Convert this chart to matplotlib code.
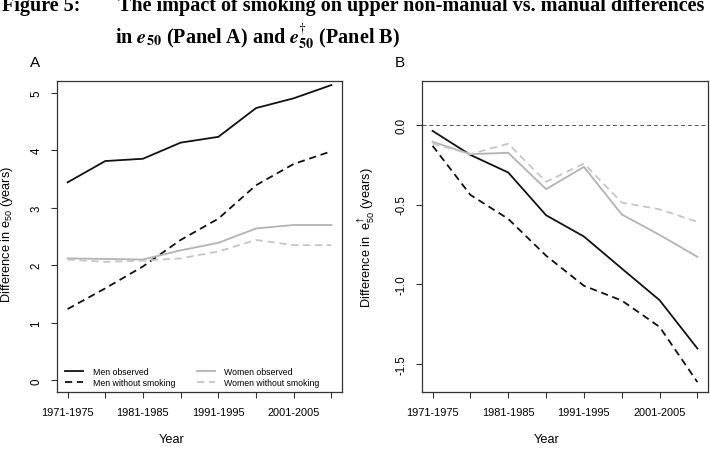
import matplotlib
matplotlib.use("Agg")
import matplotlib.pyplot as plt
import numpy as np

plt.rcParams['font.family'] = ['Liberation Sans', 'DejaVu Sans']
plt.rcParams['mathtext.fontset'] = 'custom'
plt.rcParams['mathtext.rm'] = 'Liberation Sans'
plt.rcParams['mathtext.it'] = 'Liberation Sans'
plt.rcParams['mathtext.bf'] = 'Liberation Sans:bold'

periods = ['1971-1975', '1976-1980', '1981-1985', '1986-1990',
           '1991-1995', '1996-2000', '2001-2005', '2006-2010']

# Panel A: difference in e50
men_obs_a = [3.44, 3.81, 3.85, 4.13, 4.23, 4.73, 4.90, 5.13]
men_nosmk_a = [1.24, 1.60, 1.98, 2.44, 2.81, 3.39, 3.76, 3.98]
women_obs_a = [2.12, 2.11, 2.10, 2.26, 2.39, 2.64, 2.70, 2.70]
women_nosmk_a = [2.10, 2.06, 2.08, 2.12, 2.24, 2.44, 2.35, 2.35]

# Panel B: difference in e-dagger50
men_obs_b = [-0.04, -0.19, -0.30, -0.567, -0.70, -0.90, -1.098, -1.40]
men_nosmk_b = [-0.133, -0.44, -0.59, -0.82, -1.008, -1.10, -1.265, -1.61]
women_obs_b = [-0.108, -0.185, -0.177, -0.404, -0.265, -0.562, -0.69, -0.827]
women_nosmk_b = [-0.119, -0.185, -0.12, -0.358, -0.244, -0.488, -0.53, -0.608]

x = np.arange(1, len(periods) + 1)
xlabels = [p if i % 2 == 0 else '' for i, p in enumerate(periods)]

W, H = 710, 452
fig = plt.figure(figsize=(W / 100, H / 100), dpi=100)

black = '#111111'
gray1 = '#b3b3b3'
gray2 = '#c6c6c6'
dash = (4, 2.6)
lw = 1.3


def style(ax, ylim, yticks, yticklabels):
    ax.set_xlim(0.72, 8.28)
    ax.set_ylim(*ylim)
    ax.set_xticks(x)
    ax.set_xticklabels(xlabels, fontsize=7.9)
    ax.set_yticks(yticks)
    ax.set_yticklabels(yticklabels, fontsize=8.3, rotation=90, va='center')
    ax.tick_params(axis='both', direction='out', length=4.5, width=0.8, color='#333333')
    ax.tick_params(axis='x', pad=6.5)
    ax.tick_params(axis='y', pad=6.0)
    for s in ax.spines.values():
        s.set_color('#333333')
        s.set_linewidth(0.9)


axA = fig.add_axes([57 / W, 59 / H, 285 / W, 311 / H])
axA.plot(x, men_obs_a, color=black, lw=lw, label='Men observed')
axA.plot(x, men_nosmk_a, color=black, lw=lw, dashes=dash, label='Men without smoking')
axA.plot(x, women_obs_a, color=gray1, lw=lw, label='Women observed')
axA.plot(x, women_nosmk_a, color=gray2, lw=lw, dashes=dash, label='Women without smoking')
style(axA, (-0.2, 5.2), [0, 1, 2, 3, 4, 5], ['0', '1', '2', '3', '4', '5'])
axA.set_ylabel('Difference in e$_{50}$ (years)', fontsize=9.2)
axA.yaxis.set_label_coords(-0.147, 0.51)
axA.set_xlabel('Year', fontsize=9.2)
axA.xaxis.set_label_coords(0.403, -0.132)
axA.legend(ncol=2, loc='lower left', bbox_to_anchor=(0.028, 0.015), frameon=False,
           fontsize=6.3, handlelength=2.1, handletextpad=1.05, columnspacing=2.5,
           labelspacing=0.3, borderpad=0, borderaxespad=0)

axB = fig.add_axes([422 / W, 59 / H, 286 / W, 311 / H])
axB.axhline(0, color='#555555', lw=0.7, dashes=(4, 3))
axB.plot(x, men_obs_b, color=black, lw=lw)
axB.plot(x, men_nosmk_b, color=black, lw=lw, dashes=dash)
axB.plot(x, women_obs_b, color=gray1, lw=lw)
axB.plot(x, women_nosmk_b, color=gray2, lw=lw, dashes=dash)
style(axB, (-1.672, 0.272), [0.0, -0.5, -1.0, -1.5], ['0.0', '-0.5', '-1.0', '-1.5'])
axB.set_ylabel('Difference in  e$^{\\dagger}_{50}$ (years)', fontsize=9.2)
axB.yaxis.set_label_coords(-0.157, 0.5)
axB.set_xlabel('Year', fontsize=9.2)
axB.xaxis.set_label_coords(0.437, -0.132)

fig.text(30 / W, 1 - 67 / H, 'A', fontsize=11, va='baseline')
fig.text(395 / W, 1 - 67 / H, 'B', fontsize=11, va='baseline')

tkw = dict(fontsize=14.5, fontweight='bold', family=['Liberation Serif', 'DejaVu Serif'],
           va='baseline', math_fontfamily='stix')
fig.text(2 / W, 1 - 11 / H, 'Figure 5:', **tkw)
fig.text(118 / W, 1 - 11 / H, 'The impact of smoking on upper non-manual vs. manual differences', **tkw)
fig.text(115 / W, 1 - 44 / H,
         r'in $\mathbfit{e}_{\mathbf{50}}$ (Panel A) and $\mathbfit{e}^{\dagger}_{\mathbf{50}}$ (Panel B)',
         **tkw)

fig.savefig('out.png', dpi=100)
